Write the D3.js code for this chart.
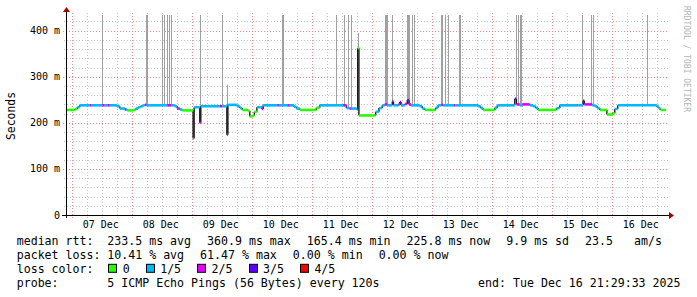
<!DOCTYPE html>
<html>
<head>
<meta charset="utf-8">
<script src="https://cdn.jsdelivr.net/npm/d3@7"></script>
<style>
  body { margin: 0; background: #fff; }
  svg { display: block; }
  text { font-family: "DejaVu Sans Mono", monospace; fill: #000; }
</style>
</head>
<body>
<div id="chart"></div>
<script>
// median rtt, [time, ms, lost pings of 5]
const MEDIAN = [
  ["12-06 21:29", 228, 0], ["12-07 01:00", 230, 0], ["12-07 02:00", 234, 1], ["12-07 03:00", 238, 1],
  ["12-07 07:00", 238, 2], ["12-07 07:30", 238, 1], ["12-07 12:00", 238, 2], ["12-07 13:00", 238, 1],
  ["12-07 14:00", 238, 2], ["12-07 15:00", 238, 1], ["12-07 18:00", 236, 1], ["12-07 19:00", 231, 1],
  ["12-07 21:00", 229, 2], ["12-07 21:30", 229, 1], ["12-07 22:00", 227, 0], ["12-08 00:20", 228, 0],
  ["12-08 01:20", 231, 1], ["12-08 02:20", 234, 1], ["12-08 03:20", 236, 1], ["12-08 04:20", 238, 1],
  ["12-08 05:00", 239, 2], ["12-08 05:45", 238, 1], ["12-08 14:00", 238, 2], ["12-08 15:30", 238, 1],
  ["12-08 17:00", 236, 1], ["12-08 18:00", 231, 2], ["12-08 19:00", 229, 1], ["12-08 20:00", 227, 0],
  ["12-08 23:50", 227, 0],
  ["12-09 00:20", 166, 1], ["12-09 00:45", 234, 1], ["12-09 03:00", 200, 2], ["12-09 03:25", 236, 1],
  ["12-09 11:00", 236, 2], ["12-09 12:00", 236, 1], ["12-09 13:50", 174, 2], ["12-09 14:15", 239, 1],
  ["12-09 18:00", 236, 1], ["12-09 19:00", 232, 1], ["12-09 20:00", 228, 0], ["12-09 22:20", 226, 0],
  ["12-09 23:00", 214, 0], ["12-10 00:10", 216, 0], ["12-10 00:50", 224, 0], ["12-10 01:50", 234, 1],
  ["12-10 03:50", 230, 2], ["12-10 04:20", 238, 1], ["12-10 10:00", 238, 2], ["12-10 10:40", 238, 1],
  ["12-10 14:00", 238, 2], ["12-10 15:00", 238, 1], ["12-10 16:40", 235, 1], ["12-10 17:40", 231, 1],
  ["12-10 19:00", 228, 0], ["12-11 00:20", 228, 0], ["12-11 01:40", 233, 0], ["12-11 03:00", 238, 1],
  ["12-11 12:20", 238, 2], ["12-11 13:40", 232, 1], ["12-11 15:00", 231, 2], ["12-11 15:40", 231, 1],
  ["12-11 17:50", 228, 1], ["12-11 18:10", 362, 0], ["12-11 18:40", 216, 0], ["12-12 00:00", 216, 0],
  ["12-12 01:20", 224, 1], ["12-12 02:40", 232, 1], ["12-12 04:00", 238, 1], ["12-12 05:00", 240, 2],
  ["12-12 06:00", 238, 1], ["12-12 08:00", 246, 3], ["12-12 08:30", 238, 1], ["12-12 10:30", 240, 2],
  ["12-12 11:00", 245, 3], ["12-12 11:30", 238, 1], ["12-12 13:00", 241, 2], ["12-12 14:00", 249, 3],
  ["12-12 14:40", 240, 2], ["12-12 15:30", 238, 1], ["12-12 19:00", 236, 1], ["12-12 20:00", 231, 1],
  ["12-12 21:00", 228, 0], ["12-13 00:20", 228, 0], ["12-13 01:20", 233, 1], ["12-13 02:20", 238, 1],
  ["12-13 03:40", 239, 2], ["12-13 04:20", 238, 1], ["12-13 08:40", 238, 2], ["12-13 09:20", 238, 1],
  ["12-13 18:20", 236, 1], ["12-13 19:20", 232, 1], ["12-13 20:20", 228, 0], ["12-13 23:50", 228, 0],
  ["12-14 01:00", 233, 1], ["12-14 02:00", 238, 1], ["12-14 09:00", 252, 3], ["12-14 09:40", 240, 2],
  ["12-14 11:00", 238, 1], ["12-14 12:00", 240, 2], ["12-14 15:00", 238, 1], ["12-14 16:20", 236, 1],
  ["12-14 17:20", 232, 1], ["12-14 18:20", 228, 0], ["12-15 00:20", 228, 0], ["12-15 01:40", 232, 1],
  ["12-15 03:00", 238, 1], ["12-15 10:00", 238, 2], ["12-15 10:30", 238, 1], ["12-15 12:20", 248, 3],
  ["12-15 12:50", 240, 2], ["12-15 16:00", 238, 1], ["12-15 17:00", 236, 1], ["12-15 18:00", 232, 1],
  ["12-15 19:00", 228, 0], ["12-15 21:50", 218, 0], ["12-16 00:10", 221, 0], ["12-16 01:00", 230, 1],
  ["12-16 02:10", 238, 1], ["12-16 17:50", 235, 1], ["12-16 18:40", 231, 1], ["12-16 19:20", 228, 0],
  ["12-16 21:29", 228, 0]
];

// single slow pings (smoke), [time, highest rtt ms]
const SPIKES = [
  ["12-07 12:00", 440],
  ["12-08 05:24", 440], ["12-08 06:00", 440], ["12-08 11:45", 440], ["12-08 12:40", 440],
  ["12-08 13:45", 440], ["12-08 14:48", 440], ["12-08 15:35", 440],
  ["12-09 03:17", 440], ["12-09 12:05", 440], ["12-09 14:05", 283],
  ["12-10 12:00", 440], ["12-10 12:24", 440],
  ["12-11 09:22", 440], ["12-11 12:48", 440], ["12-11 14:10", 440], ["12-11 15:24", 440], ["12-11 18:17", 395],
  ["12-12 05:10", 440], ["12-12 05:34", 440], ["12-12 06:05", 440], ["12-12 08:00", 440],
  ["12-12 13:50", 440], ["12-12 14:14", 440], ["12-12 14:48", 440], ["12-12 16:00", 440], ["12-12 16:46", 440],
  ["12-13 03:22", 440], ["12-13 04:00", 440], ["12-13 05:05", 440], ["12-13 06:24", 440],
  ["12-13 10:30", 440], ["12-13 10:54", 440],
  ["12-14 09:22", 440], ["12-14 10:10", 440], ["12-14 11:10", 440], ["12-14 11:34", 440],
  ["12-15 12:00", 440], ["12-15 15:22", 440], ["12-15 16:10", 440],
  ["12-16 13:45", 440]
];

const START = "2025-12-06 21:29:33";
const END = "2025-12-16 21:29:33";
const Y_MAX = 434;
const Y_TICKS = [0, 100, 200, 300, 400];

const LOSS_LABELS = ["0", "1/5", "2/5", "3/5", "4/5"];
const LOSS_COLORS = ["#26ff00", "#00b8ff", "#dd00ff", "#5e00ff", "#ff0000"];

const RTT_ITEMS = ["233.5 ms avg", "360.9 ms max", "165.4 ms min", "225.8 ms now", "9.9 ms sd", "23.5   am/s"];
const LOSS_ITEMS = ["10.41 % avg", "61.47 % max", "0.00 % min", "0.00 % now"];
const PROBE_TEXT = "5 ICMP Echo Pings (56 Bytes) every 120s";
const END_TEXT = "end: Tue Dec 16 21:29:33 2025";

const W = 697, H = 297;
const L = 66, R = 666, T = 15, B = 215;
const CW = 6.97;   // legend char advance

const parseT = d3.utcParse("%Y-%m-%d %H:%M");
const parseFull = d3.utcParse("%Y-%m-%d %H:%M:%S");
const t0 = parseFull(START), t1 = parseFull(END);

const med = MEDIAN.map(([t, v, l]) => ({ t: parseT("2025-" + t), v, l }));
const spikes = SPIKES.map(([t, v]) => ({ t: parseT("2025-" + t), v }));

const x = d3.scaleUtc().domain([t0, t1]).range([L, R]);
const y = d3.scaleLinear().domain([0, Y_MAX]).range([B, T]);
const px = v => Math.round(v) + 0.5;

const svg = d3.select("#chart").append("svg")
  .attr("width", W).attr("height", H)
  .attr("viewBox", `0 0 ${W} ${H}`);

svg.append("rect").attr("width", W).attr("height", H).attr("fill", "#fff");

svg.append("defs").append("clipPath").attr("id", "plot-clip")
  .append("rect").attr("x", L).attr("y", T).attr("width", R - L).attr("height", B - T);

// grid
const grid = svg.append("g");
const minorY = d3.range(20, Y_MAX, 20).filter(v => v % 100 !== 0);
const majorY = Y_TICKS.filter(v => v > 0);
const days = d3.utcDay.range(t0, t1);
const minorX = d3.utcHour.every(6).range(t0, t1).filter(d => d.getUTCHours() !== 0);

grid.selectAll(".hmin").data(minorY).join("line")
  .attr("x1", L - 2).attr("x2", R + 2)
  .attr("y1", d => px(y(d))).attr("y2", d => px(y(d)))
  .attr("stroke", "#c4c4c4").attr("stroke-dasharray", "1,2");
grid.selectAll(".vmin").data(minorX).join("line")
  .attr("x1", d => px(x(d))).attr("x2", d => px(x(d)))
  .attr("y1", T - 2).attr("y2", B + 3)
  .attr("stroke", "#c4c4c4").attr("stroke-dasharray", "1,2");
grid.selectAll(".hmaj").data(majorY).join("line")
  .attr("x1", L - 3).attr("x2", R + 2)
  .attr("y1", d => px(y(d))).attr("y2", d => px(y(d)))
  .attr("stroke", "#f08a8a").attr("stroke-dasharray", "1,2");
grid.selectAll(".vmaj").data(days).join("line")
  .attr("x1", d => px(x(d))).attr("x2", d => px(x(d)))
  .attr("y1", T - 2).attr("y2", B + 3)
  .attr("stroke", "#f08a8a").attr("stroke-dasharray", "1,2");

// smoke
const plot = svg.append("g").attr("clip-path", "url(#plot-clip)");
const bis = d3.bisector(d => d.t).right;
const medAt = t => med[Math.max(0, bis(med, t) - 1)].v;
const step = 24 * 60 * 1000;

plot.selectAll(".spike").data(spikes).join("rect")
  .attr("x", d => Math.round(x(d.t)))
  .attr("width", d => Math.max(1, Math.round(x(new Date(+d.t + step)) - x(d.t))))
  .attr("y", d => y(d.v))
  .attr("height", d => y(medAt(d.t)) - y(d.v))
  .attr("fill", "#a0a0a0");

// median: vertical joins then loss-coloured dashes
const pairs = d3.pairs(med);
plot.selectAll(".join").data(pairs).join("line")
  .attr("x1", d => x(d[1].t)).attr("x2", d => x(d[1].t))
  .attr("y1", d => y(d[0].v)).attr("y2", d => y(d[1].v))
  .attr("stroke", "#1a1a1a").attr("stroke-width", 1.4);
plot.selectAll(".dash").data(pairs).join("line")
  .attr("x1", d => x(d[0].t)).attr("x2", d => x(d[1].t))
  .attr("y1", d => y(d[0].v)).attr("y2", d => y(d[0].v))
  .attr("stroke", d => LOSS_COLORS[d[0].l]).attr("stroke-width", 2.6);

// axes
const axis = svg.append("g");
axis.append("line").attr("x1", L - 4).attr("x2", R + 3)
  .attr("y1", B + 0.5).attr("y2", B + 0.5).attr("stroke", "#000");
axis.append("line").attr("x1", L + 0.5).attr("x2", L + 0.5)
  .attr("y1", B + 3).attr("y2", T - 4).attr("stroke", "#000");
axis.append("path").attr("d", `M${R + 3},${B - 3}L${R + 8},${B + 0.5}L${R + 3},${B + 4}Z`).attr("fill", "#a00000");
axis.append("path").attr("d", `M${L - 3},${T - 3}L${L + 0.5},${T - 8}L${L + 4},${T - 3}Z`).attr("fill", "#a00000");

axis.selectAll(".ylab").data(Y_TICKS).join("text")
  .attr("x", 60).attr("y", d => y(d) + 3.5)
  .attr("text-anchor", "end").style("font-size", "10px")
  .text(d => d === 0 ? "0" : `${d} m`);

const fmtDay = d3.utcFormat("%d %b");
const labelDays = days.map(d => d3.utcHour.offset(d, 12)).filter(d => d <= t1);
axis.selectAll(".xlab").data(labelDays).join("text")
  .attr("x", d => x(d) - 1.5).attr("y", 227.5)
  .attr("text-anchor", "middle").style("font-size", "10px")
  .text(d => fmtDay(d));

svg.append("text")
  .attr("transform", `translate(14.5,${(T + B) / 2 + 1}) rotate(-90)`)
  .attr("text-anchor", "middle").style("font-size", "11.4px")
  .text("Seconds");

svg.append("text")
  .attr("transform", "translate(684,59) rotate(90)")
  .attr("text-anchor", "middle").style("font-size", "8px").style("fill", "#b4b4b4")
  .text("RRDTOOL / TOBI OETIKER");

// legend
const leg = svg.append("g").style("font-size", "11.6px");
const X0 = 16.7, X1 = 107.3, GAP = 16.1, LH = 13.9, BASE = 245;

function row(label, items, i) {
  leg.append("text").attr("x", X0).attr("y", BASE + i * LH).text(label);
  let cx = X1;
  items.forEach(s => {
    leg.append("text").attr("x", cx).attr("y", BASE + i * LH)
      .attr("xml:space", "preserve").style("white-space", "pre").text(s);
    cx += s.length * CW + GAP;
  });
}
row("median rtt:", RTT_ITEMS, 0);
row("packet loss:", LOSS_ITEMS, 1);

leg.append("text").attr("x", X0).attr("y", BASE + 2 * LH).text("loss color:");
let bx = X1 + 1;
LOSS_LABELS.forEach((s, i) => {
  leg.append("rect").attr("x", Math.round(bx) + 0.5).attr("y", BASE + 2 * LH - 8.5)
    .attr("width", 8).attr("height", 8)
    .attr("fill", LOSS_COLORS[i]).attr("stroke", "#000");
  leg.append("text").attr("x", bx + 14.4).attr("y", BASE + 2 * LH).text(s);
  bx += 14.4 + s.length * CW + GAP;
});

leg.append("text").attr("x", X0).attr("y", BASE + 3 * LH).text("probe:");
leg.append("text").attr("x", X1).attr("y", BASE + 3 * LH).text(PROBE_TEXT);
leg.append("text").attr("x", 680.5).attr("y", BASE + 3 * LH)
  .attr("text-anchor", "end").text(END_TEXT);
</script>
</body>
</html>
